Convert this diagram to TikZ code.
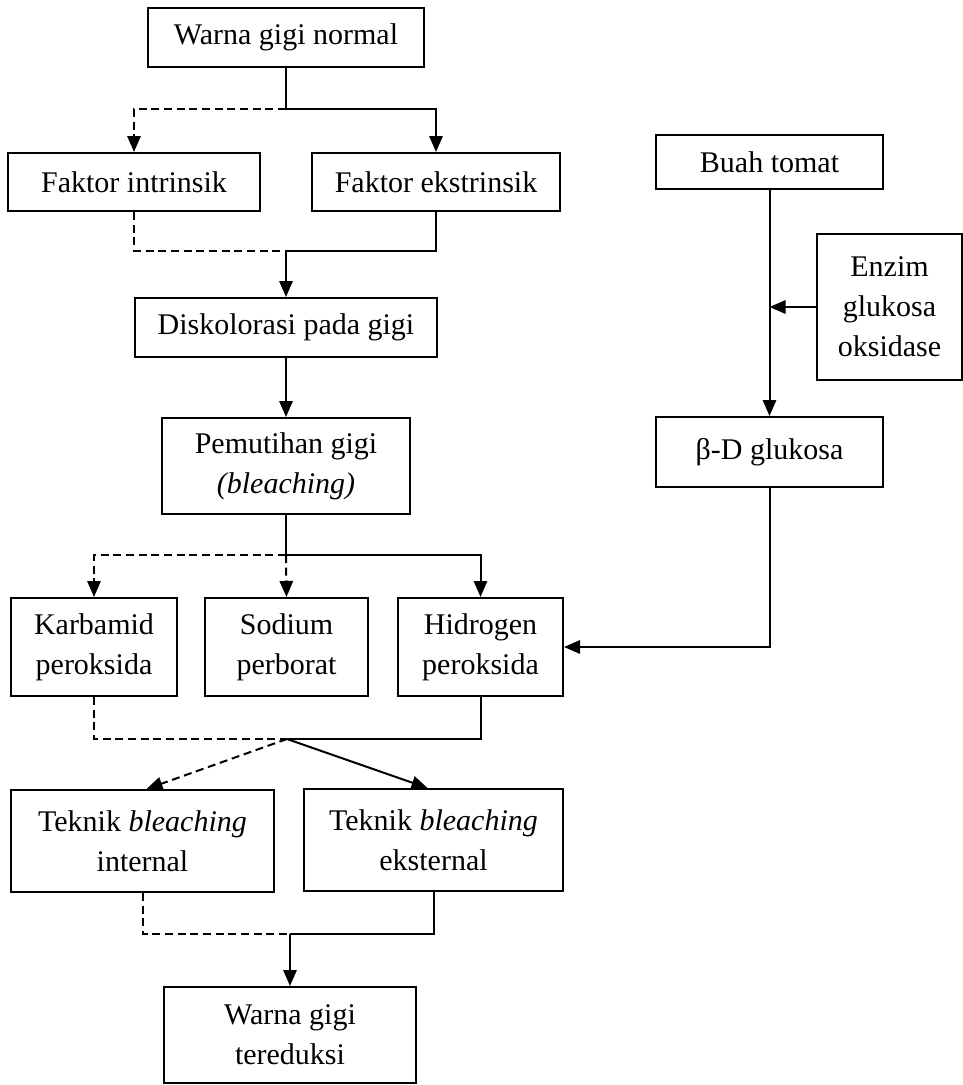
\documentclass[tikz,border=0pt]{standalone}
\usepackage{fontspec}
\setmainfont{Liberation Serif}
\usetikzlibrary{arrows.meta}
\begin{document}
\begin{tikzpicture}[x=0.75pt,y=-0.75pt,
  box/.style={draw, line width=1.5pt, rectangle, inner sep=0pt, align=center,
    font=\fontsize{22.5}{30}\selectfont},
  arr/.style={-{Triangle[length=12pt,width=10pt]}},
  ln/.style={line width=1.5pt},
  dsh/.style={dash pattern=on 6pt off 3.5pt}]
\useasboundingbox (0,0) rectangle (963,1085);
% nodes
\node[box, minimum width=207pt, minimum height=44.25pt] (n1) at (286,37.5) {Warna gigi normal};
\node[box, minimum width=189pt, minimum height=43.5pt] (fi) at (134,182) {Faktor intrinsik};
\node[box, minimum width=186pt, minimum height=43.5pt] (fe) at (436,182) {Faktor ekstrinsik};
\node[box, minimum width=226.5pt, minimum height=44.25pt] (dk) at (286,327.5) {Diskolorasi pada gigi};
\node[box, minimum width=186pt, minimum height=72pt] (pm) at (286,466) {Pemutihan gigi\\\textit{(bleaching)}};
\node[box, minimum width=124.5pt, minimum height=73.5pt] (kb) at (94,647) {Karbamid\\peroksida};
\node[box, minimum width=122.25pt, minimum height=73.5pt] (sd) at (286.5,647) {Sodium\\perborat};
\node[box, minimum width=123.75pt, minimum height=73.5pt] (hd) at (480.5,647) {Hidrogen\\peroksida};
\node[box, minimum width=197.25pt, minimum height=76.5pt] (ti) at (142.5,841) {Teknik \textit{bleaching}\\internal};
\node[box, minimum width=194.25pt, minimum height=76.5pt] (te) at (433.5,840) {Teknik \textit{bleaching}\\eksternal};
\node[box, minimum width=189pt, minimum height=72pt] (wt) at (290,1035) {Warna gigi\\tereduksi};
\node[box, minimum width=170.25pt, minimum height=40.5pt] (bt) at (769.5,162) {Buah tomat};
\node[box, minimum width=108.75pt, minimum height=109.5pt] (ez) at (889.5,307) {Enzim\\glukosa\\oksidase};
\node[box, minimum width=170.25pt, minimum height=52.5pt] (bd) at (769.5,452) {β-D glukosa};
% junctions
\coordinate (j1) at (286,109);
\coordinate (j2) at (286,251);
\coordinate (j3) at (286,555);
\coordinate (j4) at (287,739);
\coordinate (j5) at (290,934);
% top split
\draw[ln] (n1.south) -- (j1);
\draw[ln,dsh,arr] (j1) -| (fi.north);
\draw[ln,arr] (j1) -| (fe.north);
% merge to discoloration
\draw[ln,dsh] (fi.south) |- (j2);
\draw[ln] (fe.south) |- (j2);
\draw[ln,arr] (j2) -- (dk.north);
\draw[ln,arr] (dk.south) -- (pm.north);
% bleaching split
\draw[ln] (pm.south) -- (j3);
\draw[ln,dsh,arr] (j3) -| (kb.north);
\draw[ln,dsh,arr] (j3) -- (sd.north);
\draw[ln,arr] (j3) -| (hd.north);
% merge to techniques
\draw[ln,dsh] (kb.south) |- (j4);
\draw[ln] (hd.south) |- (j4);
\draw[ln,dsh,arr] (j4) -- ([xshift=3pt]ti.north);
\draw[ln,arr] (j4) -- ([xshift=-4.5pt]te.north);
% merge to result
\draw[ln,dsh] (ti.south) |- (j5);
\draw[ln] (te.south) |- (j5);
\draw[ln,arr] (j5) -- (wt.north);
% tomato branch
\draw[ln,arr] (bt.south) -- (bd.north);
\draw[ln,arr] (ez.west) -- (ez.west -| bt.south);
\draw[ln,arr] (bd.south) |- (hd.east);
\end{tikzpicture}
\end{document}
